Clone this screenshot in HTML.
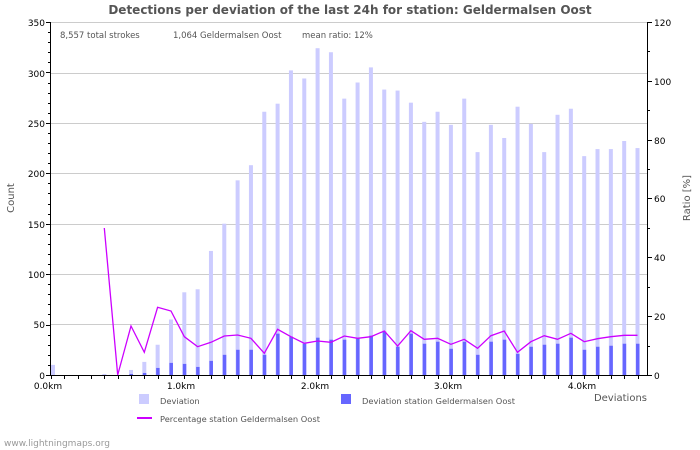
<!DOCTYPE html>
<html><head><meta charset="utf-8"><style>
body{margin:0;background:#fff;}
svg{display:block;font-family:"DejaVu Sans","Liberation Sans",sans-serif;}
</style></head><body>
<svg id="s" width="700" height="450" viewBox="0 0 700 450" xmlns="http://www.w3.org/2000/svg">
<rect width="700" height="450" fill="#fff"/>
<text x="350" y="14" text-anchor="middle" font-size="12" font-weight="bold" fill="#555">Detections per deviation of the last 24h for station: Geldermalsen Oost</text>
<g stroke="#ccc" stroke-width="1">
<line x1="50" y1="324.5" x2="648" y2="324.5"/><line x1="50" y1="274.5" x2="648" y2="274.5"/>
<line x1="50" y1="224.5" x2="648" y2="224.5"/><line x1="50" y1="173.5" x2="648" y2="173.5"/>
<line x1="50" y1="123.5" x2="648" y2="123.5"/><line x1="50" y1="73.5" x2="648" y2="73.5"/>
<line x1="50" y1="22.5" x2="648" y2="22.5"/>
</g>
<g id="bars"></g>
<g stroke="#000" stroke-width="1">
<line x1="50.5" y1="22" x2="50.5" y2="375"/>
<line x1="647.5" y1="22" x2="647.5" y2="375"/>
<line x1="50" y1="375.5" x2="648" y2="375.5"/>
</g>
<g id="ticks" stroke="#000" stroke-width="1"></g>
<text x="60" y="38" font-size="8.5" fill="#555">8,557 total strokes</text>
<text x="173" y="38" font-size="8.5" fill="#555">1,064 Geldermalsen Oost</text>
<text x="302" y="38" font-size="8.5" fill="#555">mean ratio: 12%</text>
<g font-size="9" fill="#000" text-anchor="end">
<text x="45" y="379">0</text><text x="45" y="328">50</text><text x="45" y="278">100</text>
<text x="45" y="228">150</text><text x="45" y="177">200</text><text x="45" y="127">250</text>
<text x="45" y="77">300</text><text x="45" y="26">350</text>
</g>
<g font-size="9" fill="#000">
<text x="654" y="379">0</text><text x="654" y="320">20</text><text x="654" y="261">40</text>
<text x="654" y="202">60</text><text x="654" y="144">80</text><text x="654" y="85">100</text>
<text x="654" y="26">120</text>
</g>
<g font-size="9" fill="#000" text-anchor="middle">
<text x="48" y="389">0.0km</text><text x="181" y="389">1.0km</text><text x="315" y="389">2.0km</text>
<text x="448" y="389">3.0km</text><text x="582" y="389">4.0km</text>
</g>
<text x="14" y="198" font-size="10" fill="#555" text-anchor="middle" transform="rotate(-90 14 198)">Count</text>
<text x="690" y="198" font-size="10" fill="#555" text-anchor="middle" transform="rotate(-90 690 198)">Ratio [%]</text>
<text x="647" y="401" font-size="10" fill="#555" text-anchor="end">Deviations</text>
<rect x="139" y="394" width="10" height="10" fill="#ccf"/>
<text x="160" y="404" font-size="8.3" fill="#555">Deviation</text>
<rect x="341" y="394" width="10" height="10" fill="#66f"/>
<text x="362" y="404" font-size="8.3" fill="#555">Deviation station Geldermalsen Oost</text>
<line x1="137" y1="418" x2="152" y2="418" stroke="#c0f" stroke-width="2"/>
<text x="160" y="422" font-size="8.3" fill="#555">Percentage station Geldermalsen Oost</text>
<text x="4" y="446" font-size="9" fill="#999">www.lightningmaps.org</text>
<polyline id="pl" fill="none" stroke="#c0f" stroke-width="1.3"/>
</svg>
<script>
var L=[10,0,0,0,1,0,5,13,30,55,82,85,123,150,193,208,261,269,302,294,324,320,274,290,305,283,282,270,251,261,248,274,221,248,235,266,249,221,258,264,217,224,224,232,225];
var D=[0,0,0,0,0,0,1,2,7,12,11,8,14,20,25,25,20,41,38,31,37,35,35,36,39,43,28,41,31,33,26,33,20,33,35,21,28,30,31,37,25,28,29,31,31];
var P={4:228,5:375,6:326,7:352.3,8:307.3,9:311,10:336.7,11:346.7,12:342.3,13:336,14:335,15:338.3,16:353.3,17:329.3,18:336.7,19:343.3,20:341,21:342.3,22:336,23:338.3,24:336.7,25:331,26:346,27:330.7,28:339.3,29:338.3,30:344.3,31:339.3,32:348.3,33:335.7,34:331,35:352.3,36:341.7,37:335.7,38:339.3,39:333.3,40:341.7,41:338.7,42:336.7,43:335.3,44:335.3};
var ns="http://www.w3.org/2000/svg",g=document.getElementById("bars"),t=document.getElementById("ticks");
function r(x,y,w,h,f){var e=document.createElementNS(ns,"rect");e.setAttribute("x",x);e.setAttribute("y",y);e.setAttribute("width",w);e.setAttribute("height",h);e.setAttribute("fill",f);g.appendChild(e);}
function l(x1,y1,x2,y2){var e=document.createElementNS(ns,"line");e.setAttribute("x1",x1);e.setAttribute("y1",y1);e.setAttribute("x2",x2);e.setAttribute("y2",y2);t.appendChild(e);}
var pts=[];
for(var i=0;i<45;i++){var cx=51+13.33*i;var h=L[i]*1.0086;if(h>0)r(i==0?51:cx-2,375-h,4,h,"#ccf");var d=D[i]*1.0086;if(d>0)r(cx-1.5,375-d,3.5,d,"#66f");
l(Math.round(cx)+0.5,375,Math.round(cx)+0.5,379);if(P[i]!==undefined)pts.push(cx.toFixed(1)+","+P[i]);}
document.getElementById("pl").setAttribute("points",pts.join(" "));
for(var v=0;v<=350;v+=10){var y=Math.round(375-v*1.0086)+0.5;l(v%50==0?46:48,y,50,y);}
for(var p=0;p<=120;p+=10){var y=Math.round(375-p*2.942)+0.5;l(648,y,p%20==0?652:650,y);}
</script>
</body></html>
